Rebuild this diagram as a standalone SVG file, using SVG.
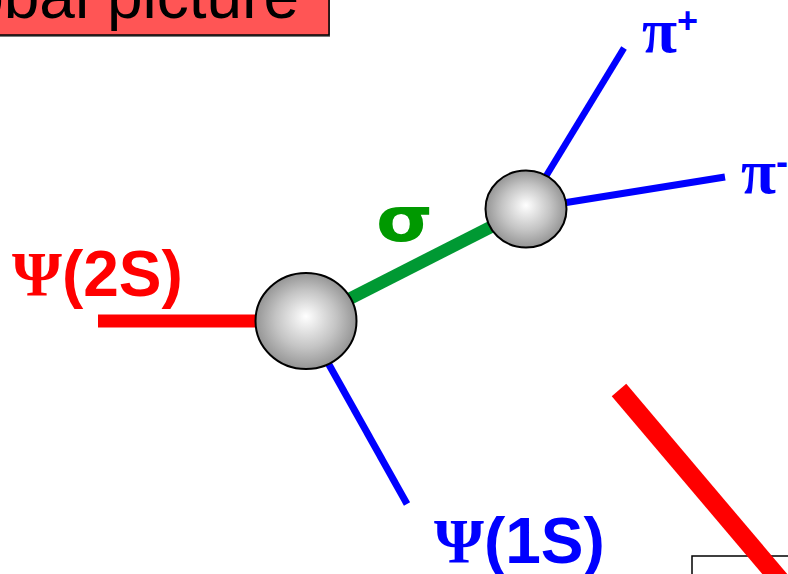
<svg xmlns="http://www.w3.org/2000/svg" width="788" height="574" viewBox="0 0 788 574">
<defs>
<radialGradient id="sph" cx="0.5" cy="0.5" r="0.5" fx="0.5" fy="0.45">
<stop offset="0" stop-color="#ffffff"/>
<stop offset="0.6" stop-color="#c4c4c4"/>
<stop offset="1" stop-color="#959595"/>
</radialGradient>
<style>
.lbl{font-family:"Liberation Sans",Arial,sans-serif;font-weight:bold;}
.sym{font-family:"Liberation Serif","Times New Roman",serif;font-weight:bold;}
.sphere{fill:url(#sph);stroke:#000;stroke-width:2;}
</style>
</defs>
<rect width="788" height="574" fill="#fff"/>
<g id="title">
<rect x="-40" y="-20" width="370" height="57" fill="#7a7a7a"/>
<rect x="-42" y="-22" width="371" height="57" fill="#ff5555" stroke="#000" stroke-width="1.5"/>
<text x="299" y="18" text-anchor="end" font-family="Liberation Sans,Arial,sans-serif" font-size="64" fill="#000">Global picture</text>
</g>
<g id="box2">
<rect x="692" y="556" width="120" height="40" fill="#fff" stroke="#000" stroke-width="1.5"/>
</g>
<g id="connectors" stroke-linecap="butt" fill="none">
<line x1="98" y1="321" x2="300" y2="321" stroke="#ff0000" stroke-width="13"/>
<line x1="306" y1="321" x2="526" y2="209" stroke="#009933" stroke-width="12.5"/>
<line x1="318" y1="345" x2="407" y2="504" stroke="#0000ff" stroke-width="7"/>
<line x1="526" y1="209" x2="624" y2="48" stroke="#0000ff" stroke-width="6.5"/>
<line x1="526" y1="209" x2="725" y2="177" stroke="#0000ff" stroke-width="7"/>
<line x1="619" y1="390" x2="790" y2="592" stroke="#ff0000" stroke-width="19"/>
</g>
<g id="vertex1">
<ellipse cx="306" cy="321" rx="50.5" ry="48" class="sphere"/>
</g>
<g id="vertex2">
<ellipse cx="526" cy="209" rx="40.5" ry="38.5" class="sphere"/>
</g>
<g id="psi2s">
<text x="12" y="296" class="lbl" font-size="64" fill="#ff0000"><tspan class="sym">Ψ</tspan>(2S)</text>
</g>
<g id="psi1s">
<text x="434" y="563" class="lbl" font-size="64" fill="#0000ff"><tspan class="sym">Ψ</tspan>(1S)</text>
</g>
<g id="sigma">
<text x="0" y="0" transform="translate(376 241) scale(1.18 1)" font-family="DejaVu Sans,sans-serif" font-weight="bold" font-size="62" fill="#009900">σ</text>
</g>
<g id="piplus">
<text x="642" y="52" class="sym" font-size="64" fill="#0000ff">π<tspan class="lbl" font-size="36" dy="-19">+</tspan></text>
</g>
<g id="piminus">
<text x="741" y="193" class="sym" font-size="64" fill="#0000ff">π<tspan class="lbl" font-size="36" dy="-19">-</tspan></text>
</g>
</svg>
